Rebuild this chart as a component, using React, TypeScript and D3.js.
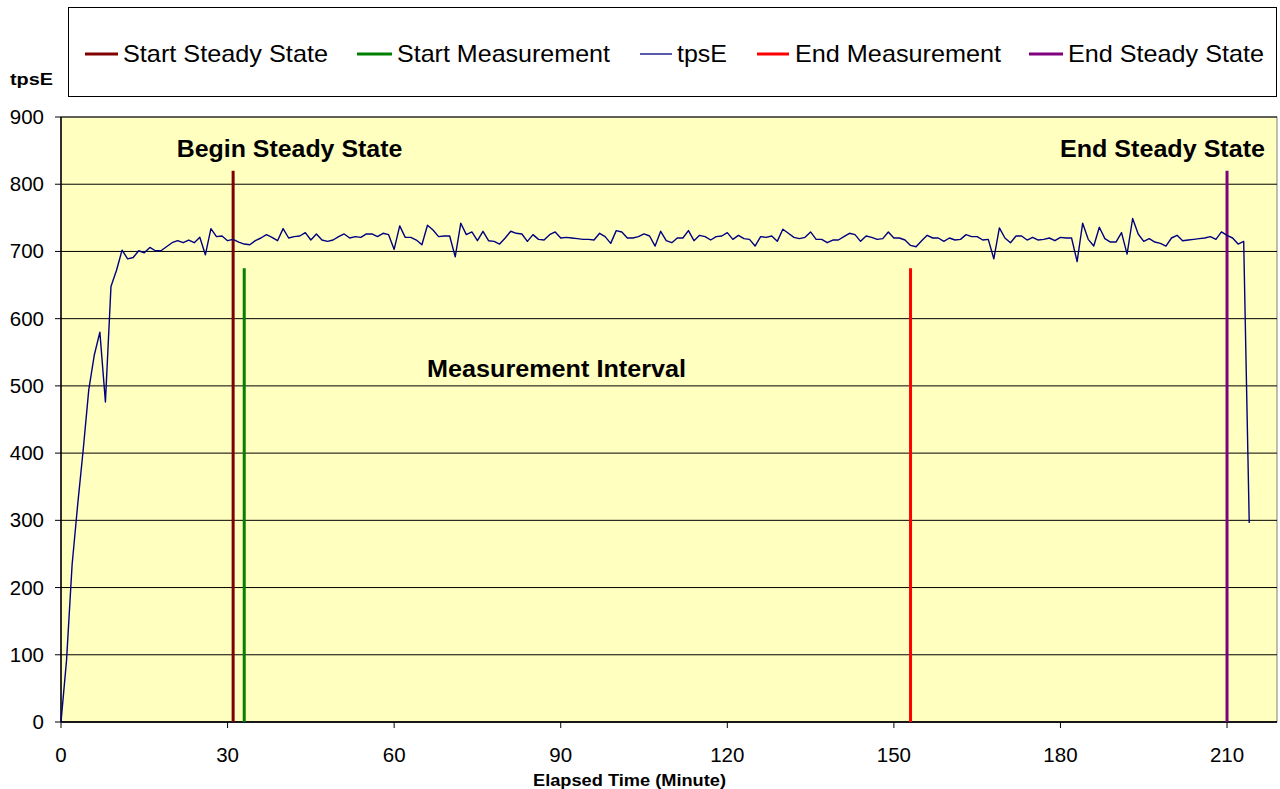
import React from "react";
import * as d3 from "d3";

const tpsE: number[] = [
  0, 92, 234, 323, 405, 494, 546, 580, 476, 648,
  672, 702, 689, 691, 701, 698, 706, 701, 701, 707,
  713, 716, 713, 717, 713, 721, 695, 734, 722, 723,
  716, 718, 714, 711, 710, 716, 720, 725, 721, 716,
  734, 720, 722, 723, 728, 717, 726, 717, 715, 717,
  722, 726, 720, 722, 721, 726, 726, 722, 727, 725,
  703, 738, 721, 721, 717, 710, 739, 732, 722, 723,
  723, 692, 742, 725, 729, 716, 730, 716, 715, 711,
  720, 730, 727, 726, 715, 725, 718, 717, 725, 729,
  720, 721, 720, 719, 718, 718, 717, 727, 722, 712,
  731, 729, 720, 720, 722, 726, 723, 708, 730, 716,
  713, 720, 720, 731, 716, 724, 722, 717, 722, 723,
  728, 718, 724, 719, 718, 708, 722, 721, 723, 715,
  733, 727, 721, 719, 721, 729, 718, 718, 713, 717,
  717, 722, 727, 725, 715, 723, 721, 718, 719, 729,
  720, 720, 717, 709, 707, 716, 724, 720, 720, 715,
  720, 717, 718, 725, 722, 722, 717, 718, 689, 735,
  720, 713, 723, 723, 717, 721, 717, 718, 720, 716,
  721, 720, 720, 685, 742, 718, 708, 736, 719, 714,
  714, 728, 696, 749, 726, 715, 719, 714, 712, 708,
  720, 724, 716, 717, 718, 719, 720, 722, 718, 729,
  724, 720, 711, 715, 296,
];

const markerNames = ["Start Steady State", "Start Measurement", "End Measurement", "End Steady State"];
const markerMinutes = [31, 33, 153, 210];
const markerTops = [820, 675, 675, 820];
const markerColors = ["#800000", "#008000", "#FF0000", "#800080"];

const legendNames = ["Start Steady State", "Start Measurement", "tpsE", "End Measurement", "End Steady State"];
const legendColors = ["#800000", "#008000", "#000080", "#FF0000", "#800080"];

const yTicks = [0, 100, 200, 300, 400, 500, 600, 700, 800, 900];
const xTicks = [0, 30, 60, 90, 120, 150, 180, 210];

const annotationTexts = ["Begin Steady State", "End Steady State", "Measurement Interval"];

const FONT = "'Liberation Sans', Arial, sans-serif";

// layout (pixel) settings, kept separate from the data
const legendLayout = [
  { lx: 85, lw: 33, tx: 123, tw: 205, sw: 3 },
  { lx: 357, lw: 35, tx: 397, tw: 213, sw: 3 },
  { lx: 640, lw: 32, tx: 677, tw: 50, sw: 1.3 },
  { lx: 757, lw: 32, tx: 795, tw: 206, sw: 3 },
  { lx: 1029, lw: 34, tx: 1068, tw: 196, sw: 3 },
];
const annotationLayout = [
  { x: 176.7, y: 156.7, w: 225.6 },
  { x: 1060, y: 156.7, w: 205 },
  { x: 427, y: 377, w: 259 },
];

export default function App() {
  const left = 61, right = 1277, top = 117, bottom = 722;
  const x = d3.scaleLinear().domain([0, 219]).range([left, right]);
  const y = d3.scaleLinear().domain([0, 900]).range([bottom, top]);
  const line = d3
    .line<number>()
    .x((_, i) => x(i))
    .y((d) => y(d));

  return (
    <svg
      width={1280}
      height={789}
      style={{ position: "absolute", left: 0, top: 0, background: "#fff" }}
      fontFamily={FONT}
    >
      {/* Legend */}
      <rect x={68.5} y={7.5} width={1208} height={89} fill="#fff" stroke="#000" strokeWidth={1} />
      {legendNames.map((n, i) => {
        const L = legendLayout[i];
        return (
          <g key={n}>
            <line x1={L.lx} x2={L.lx + L.lw} y1={54} y2={54} stroke={legendColors[i]} strokeWidth={L.sw} />
            <text x={L.tx} y={62} fontSize={24} fill="#000" textLength={L.tw} lengthAdjust="spacingAndGlyphs">
              {n}
            </text>
          </g>
        );
      })}

      {/* Y axis title */}
      <text x={10} y={85} fontSize={16} fontWeight="bold" textLength={43} lengthAdjust="spacingAndGlyphs">
        tpsE
      </text>

      {/* Plot area */}
      <rect x={left} y={top} width={right - left} height={bottom - top} fill="#FFFFC0" stroke="#808080" strokeWidth={1} />

      {/* Gridlines */}
      {yTicks.map((t) => (
        <line key={"g" + t} x1={left} x2={right} y1={y(t)} y2={y(t)} stroke="#000" strokeWidth={1} />
      ))}

      {/* Y ticks & labels */}
      {yTicks.map((t) => (
        <g key={"y" + t}>
          <line x1={left - 6} x2={left} y1={y(t)} y2={y(t)} stroke="#000" />
          <text x={44} y={y(t) + 7} fontSize={20.5} textAnchor="end">
            {t}
          </text>
        </g>
      ))}

      {/* X ticks & labels */}
      {xTicks.map((t) => (
        <g key={"x" + t}>
          <line x1={x(t)} x2={x(t)} y1={bottom} y2={bottom + 6} stroke="#000" />
          <text x={x(t)} y={762} fontSize={20.5} textAnchor="middle">
            {t}
          </text>
        </g>
      ))}

      {/* Axes */}
      <line x1={left} x2={left} y1={top} y2={bottom} stroke="#000" strokeWidth={1.5} />
      <line x1={left} x2={right} y1={bottom} y2={bottom} stroke="#000" strokeWidth={1.5} />

      {/* Marker lines */}
      {markerNames.map((n, i) => (
        <line
          key={n}
          x1={x(markerMinutes[i])}
          x2={x(markerMinutes[i])}
          y1={y(markerTops[i])}
          y2={y(0)}
          stroke={markerColors[i]}
          strokeWidth={3}
        />
      ))}

      {/* tpsE line */}
      <path d={line(tpsE) || ""} fill="none" stroke="#000080" strokeWidth={1.4} strokeLinejoin="round" />

      {/* Annotations */}
      {annotationTexts.map((t, i) => {
        const A = annotationLayout[i];
        return (
          <text
            key={t}
            x={A.x}
            y={A.y}
            fontSize={23}
            fontWeight="bold"
            textLength={A.w}
            lengthAdjust="spacingAndGlyphs"
          >
            {t}
          </text>
        );
      })}

      {/* X axis title */}
      <text x={533} y={786} fontSize={17} fontWeight="bold" textLength={193} lengthAdjust="spacingAndGlyphs">
        Elapsed Time (Minute)
      </text>
    </svg>
  );
}
